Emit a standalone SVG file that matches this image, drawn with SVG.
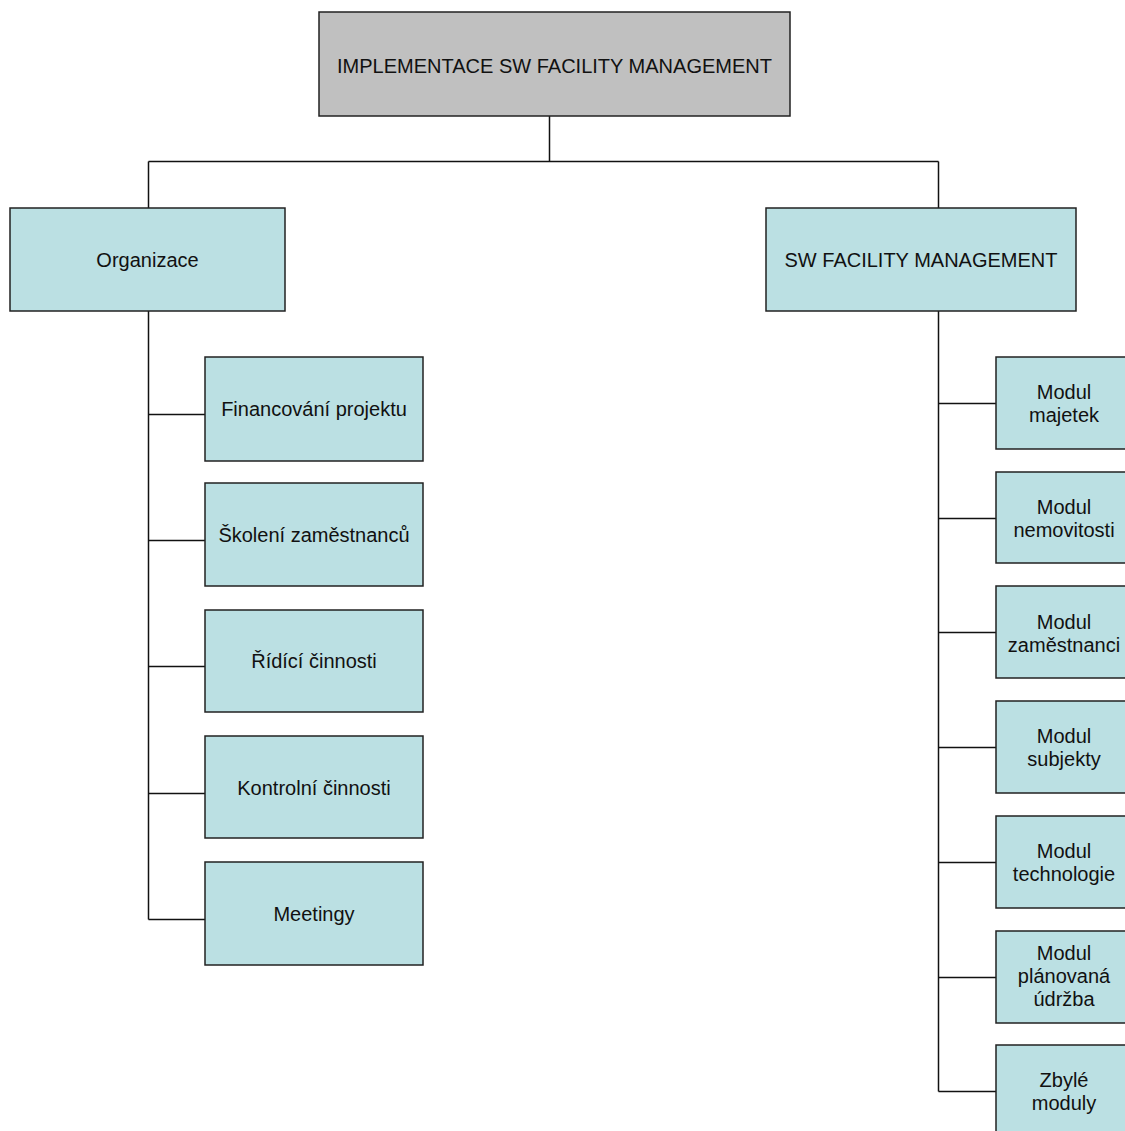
<svg xmlns="http://www.w3.org/2000/svg" width="1125" height="1131" viewBox="0 0 1125 1131">
  <style>
    .box { fill: #BBE0E3; stroke: #222; stroke-width: 1.5; }
    .root { fill: #C0C0C0; stroke: #222; stroke-width: 1.5; }
    .lbl { font-family: "Liberation Sans", Arial, sans-serif; font-size: 20px; fill: #111; text-anchor: middle; }
    .wire { fill: none; stroke: #111; stroke-width: 1.5; }
  </style>
  <rect width="1125" height="1131" fill="#fff"/>

  <!-- connectors -->
  <g id="connectors">
    <path class="wire" d="M549.5 116 V161.5 M148.5 161.5 H938.5 M148.5 161.5 V208 M938.5 161.5 V208"/>
    <path class="wire" d="M148.5 311 V919.5 M148.5 414.5 H205 M148.5 540.5 H205 M148.5 666.5 H205 M148.5 793.5 H205 M148.5 919.5 H205"/>
    <path class="wire" d="M938.5 311 V1091.5 M938.5 403.5 H996 M938.5 518.5 H996 M938.5 632.5 H996 M938.5 747.5 H996 M938.5 862.5 H996 M938.5 977.5 H996 M938.5 1091.5 H996"/>
  </g>

  <g id="root">
    <rect class="root" x="319" y="12" width="471" height="104"/>
    <text class="lbl" x="554.5" y="73">IMPLEMENTACE SW FACILITY MANAGEMENT</text>
  </g>

  <g id="organizace">
    <rect class="box" x="10" y="208" width="275" height="103"/>
    <text class="lbl" x="147.5" y="267">Organizace</text>
  </g>
  <g id="financovani">
    <rect class="box" x="205" y="357" width="218" height="104"/>
    <text class="lbl" x="314" y="416">Financování projektu</text>
  </g>
  <g id="skoleni">
    <rect class="box" x="205" y="483" width="218" height="103"/>
    <text class="lbl" x="314" y="542">Školení zaměstnanců</text>
  </g>
  <g id="ridici">
    <rect class="box" x="205" y="610" width="218" height="102"/>
    <text class="lbl" x="314" y="668">Řídící činnosti</text>
  </g>
  <g id="kontrolni">
    <rect class="box" x="205" y="736" width="218" height="102"/>
    <text class="lbl" x="314" y="795">Kontrolní činnosti</text>
  </g>
  <g id="meetingy">
    <rect class="box" x="205" y="862" width="218" height="103"/>
    <text class="lbl" x="314" y="921">Meetingy</text>
  </g>

  <g id="sw-fm">
    <rect class="box" x="766" y="208" width="310" height="103"/>
    <text class="lbl" x="921" y="267">SW FACILITY MANAGEMENT</text>
  </g>
  <g id="modul-majetek">
    <rect class="box" x="996" y="357" width="140" height="92"/>
    <text class="lbl" x="1064" y="399">Modul</text>
    <text class="lbl" x="1064" y="422">majetek</text>
  </g>
  <g id="modul-nemovitosti">
    <rect class="box" x="996" y="472" width="140" height="91"/>
    <text class="lbl" x="1064" y="514">Modul</text>
    <text class="lbl" x="1064" y="537">nemovitosti</text>
  </g>
  <g id="modul-zamestnanci">
    <rect class="box" x="996" y="586" width="140" height="92"/>
    <text class="lbl" x="1064" y="629">Modul</text>
    <text class="lbl" x="1064" y="652">zaměstnanci</text>
  </g>
  <g id="modul-subjekty">
    <rect class="box" x="996" y="701" width="140" height="92"/>
    <text class="lbl" x="1064" y="743">Modul</text>
    <text class="lbl" x="1064" y="766">subjekty</text>
  </g>
  <g id="modul-technologie">
    <rect class="box" x="996" y="816" width="140" height="92"/>
    <text class="lbl" x="1064" y="858">Modul</text>
    <text class="lbl" x="1064" y="881">technologie</text>
  </g>
  <g id="modul-udrzba">
    <rect class="box" x="996" y="931" width="140" height="92"/>
    <text class="lbl" x="1064" y="960">Modul</text>
    <text class="lbl" x="1064" y="983">plánovaná</text>
    <text class="lbl" x="1064" y="1006">údržba</text>
  </g>
  <g id="zbyle-moduly">
    <rect class="box" x="996" y="1045" width="140" height="92"/>
    <text class="lbl" x="1064" y="1087">Zbylé</text>
    <text class="lbl" x="1064" y="1110">moduly</text>
  </g>
</svg>
